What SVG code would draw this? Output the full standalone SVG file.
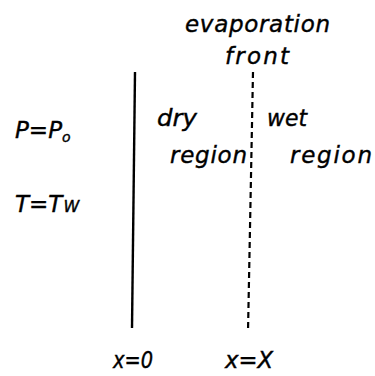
<svg xmlns="http://www.w3.org/2000/svg" width="375" height="376" viewBox="0 0 375 376">
<style>
text{font-family:"DejaVu Sans","Liberation Sans",sans-serif;font-style:italic;font-size:23px;fill:#000;stroke:#000;stroke-width:0.4}
.sub{font-size:14px}
</style>
<rect width="375" height="376" fill="#fff"/>
<g id="connectors">
<line x1="135" y1="72" x2="132" y2="328" stroke="#000" stroke-width="2.4"/>
<line x1="253" y1="72" x2="248" y2="332" stroke="#000" stroke-width="2.2" stroke-dasharray="6,4"/>
</g>
<g id="front-label">
<text x="185" y="32" textLength="145" lengthAdjust="spacing">evaporation</text>
<text x="225" y="64" textLength="64" lengthAdjust="spacing">front</text>
</g>
<g id="dry-region">
<text x="157" y="126" textLength="40" lengthAdjust="spacingAndGlyphs">dry</text>
<text x="170" y="163" textLength="77" lengthAdjust="spacing">region</text>
</g>
<g id="wet-region">
<text x="267" y="126" textLength="40" lengthAdjust="spacingAndGlyphs">wet</text>
<text x="290" y="163" textLength="82" lengthAdjust="spacing">region</text>
</g>
<g id="pressure">
<text x="15" y="138">P=P<tspan class="sub" dy="4">o</tspan></text>
</g>
<g id="temperature">
<text x="15" y="212">T=T<tspan style="font-size:16px" dx="1">W</tspan></text>
</g>
<g id="x0">
<text x="113" y="368" textLength="40" lengthAdjust="spacingAndGlyphs">x=0</text>
</g>
<g id="xX">
<text x="225" y="368" textLength="48" lengthAdjust="spacingAndGlyphs">x=X</text>
</g>
</svg>
